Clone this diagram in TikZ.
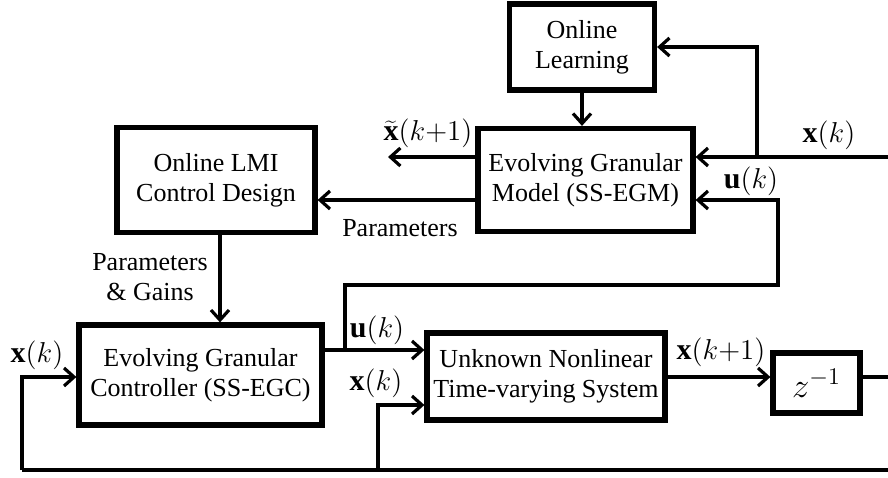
\documentclass[tikz,border=0pt]{standalone}
\usepackage{fontspec}
\setmainfont{Liberation Serif}
\usetikzlibrary{arrows.meta}
\begin{document}
\begin{tikzpicture}[x=0.5pt,y=-0.5pt,
  font=\fontsize{13}{15}\selectfont,
  block/.style={draw,line width=2.6pt,align=center,inner sep=0pt},
  conn/.style={line width=1.6pt},
  arr/.style={conn,-{Straight Barb[length=5pt,width=9pt,line width=1.6pt]}},
  lbl/.style={inner sep=0pt,align=center},
  sig/.style={inner sep=0pt,font=\fontsize{15}{17}\selectfont}]
\useasboundingbox (0,0) rectangle (888,477);

% blocks
\node[block,minimum width=72.5pt,minimum height=43pt] (learn) at (582,47) {Online\\Learning};
\node[block,minimum width=107.5pt,minimum height=51.5pt] (egm) at (585.5,180) {Evolving Granular\\Model (SS-EGM)};
\node[block,minimum width=99pt,minimum height=52.5pt] (lmi) at (216,180) {Online LMI\\Control Design};
\node[block,minimum width=121.5pt,minimum height=50pt] (egc) at (200.5,375) {Evolving Granular\\Controller (SS-EGC)};
\node[block,minimum width=119pt,minimum height=43.5pt] (sys) at (546,376.5) {Unknown Nonlinear\\Time-varying System};
\node[block,minimum width=43.5pt,minimum height=30pt,font=\fontsize{17}{19}\selectfont] (zinv) at (816.5,383) {$z^{-1}$};

% auxiliary points
\coordinate (xin) at (888,157);
\coordinate (br1) at (757,157);
\coordinate (xtil) at (388,157);
\coordinate (ubr) at (345,350);
\coordinate (uup) at (345,285);
\coordinate (uright) at (778,285);
\coordinate (uin) at (778,200);
\coordinate (zout) at (888,377);
\coordinate (fbr) at (888,470);
\coordinate (fbl) at (22,470);
\coordinate (fbm) at (378,470);

% top loop: state to the model and to learning
\draw[arr] (learn.south) -- (learn.south |- egm.north);
\draw[arr] (xin) -- (egm.east |- xin);
\draw[arr] (br1) |- (learn.east);
\draw[arr] (egm.west |- xtil) -- (xtil);
\draw[arr] (egm.west |- uin) -- (lmi.east |- uin);
\draw[arr] (ubr) -- (uup) -- (uright) -- (uin) -- (egm.east |- uin);

% control design to controller
\draw[arr] (lmi.south -| 220,0) -- (egc.north -| 220,0);

% main loop
\draw[arr] (egc.east |- ubr) -- (sys.west |- ubr);
\draw[arr] (fbm) |- (sys.west |- 0,405);
\draw[arr] (sys.east |- 0,377) -- (zinv.west |- 0,377);
\draw[conn] (zinv.east |- zout) -- (zout);
\draw[conn] (fbr) -- (fbl);
\draw[arr] (fbl) |- (egc.west |- 0,377);

% signal labels
\node[sig] (l1) at (428,133) {$\widetilde{\mathbf{x}}(k{+}1)$};
\node[sig] (l2) at (829,135) {$\mathbf{x}(k)$};
\node[sig] (l3) at (751,181) {$\mathbf{u}(k)$};
\node[lbl] (l4) at (400,228) {Parameters};
\node[lbl] (l5) at (150,277) {Parameters\\\& Gains};
\node[sig] (l6) at (377,330) {$\mathbf{u}(k)$};
\node[sig] (l7) at (376,383) {$\mathbf{x}(k)$};
\node[sig] (l8) at (721,352) {$\mathbf{x}(k{+}1)$};
\node[sig] (l9) at (37,355) {$\mathbf{x}(k)$};
\end{tikzpicture}
\end{document}
